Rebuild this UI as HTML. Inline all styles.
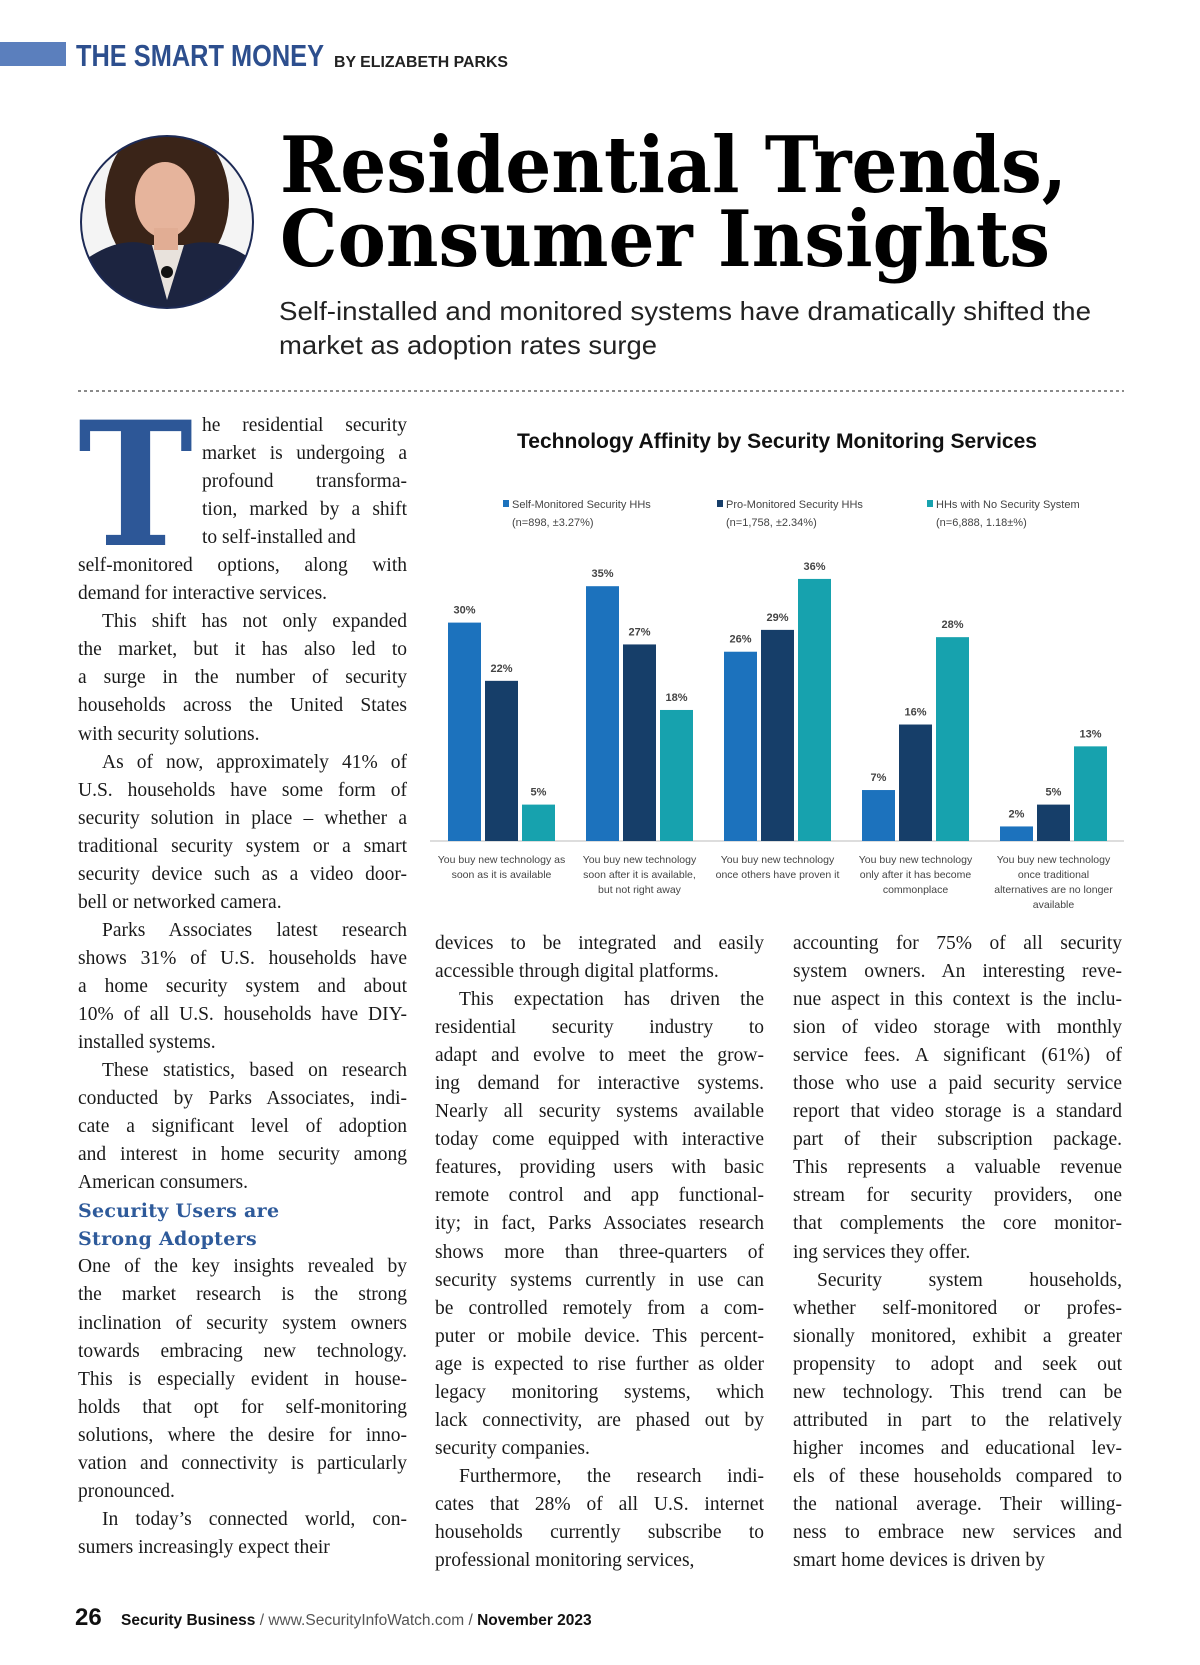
<!DOCTYPE html>
<html><head><meta charset="utf-8"><style>
body{margin:0;background:#fff;}
#page{position:relative;width:1200px;height:1665px;overflow:hidden;background:#fff;font-family:"Liberation Serif",serif;color:#1a1a1a;}
.abs{position:absolute;}
.col{position:absolute;font-size:19.5px;line-height:28.05px;}
.col div{height:28.05px;white-space:nowrap;text-align:justify;text-align-last:justify;}
.col div.e{text-align-last:left;}
.col div.i{padding-left:24px;}
.col div.h{font-family:"DejaVu Serif",serif;font-weight:bold;color:#2e5a9a;font-size:19px;text-align-last:left;letter-spacing:0.3px;}
</style></head><body>
<div id="page">
<div class="abs" style="left:0;top:42px;width:66px;height:24px;background:#5b7fbd;"></div>
<svg class="abs" style="left:0;top:0" width="1200" height="400">
<text x="76" y="66" textLength="248" lengthAdjust="spacingAndGlyphs" font-family="Liberation Sans Narrow, Liberation Sans, sans-serif" font-weight="bold" font-size="31" fill="#2d4f8e">THE SMART MONEY</text>
<text x="334" y="67" textLength="174" lengthAdjust="spacingAndGlyphs" font-family="Liberation Sans, sans-serif" font-weight="bold" font-size="16" fill="#222">BY ELIZABETH PARKS</text>
<text x="280" y="192" textLength="787" lengthAdjust="spacingAndGlyphs" font-family="DejaVu Serif, serif" font-weight="bold" font-size="78" fill="#000">Residential Trends,</text>
<text x="280" y="266" textLength="770" lengthAdjust="spacingAndGlyphs" font-family="DejaVu Serif, serif" font-weight="bold" font-size="78" fill="#000">Consumer Insights</text>
<text x="279" y="320" textLength="812" lengthAdjust="spacingAndGlyphs" font-family="Liberation Sans, sans-serif" font-size="26" fill="#222">Self-installed and monitored systems have dramatically shifted the</text>
<text x="279" y="354" textLength="378" lengthAdjust="spacingAndGlyphs" font-family="Liberation Sans, sans-serif" font-size="26" fill="#222">market as adoption rates surge</text>
<line x1="78" y1="391" x2="1124" y2="391" stroke="#444" stroke-width="1.2" stroke-dasharray="3,3"/>
<g>
<clipPath id="cp"><circle cx="167" cy="222" r="86"/></clipPath>
<g clip-path="url(#cp)">
<rect x="80" y="130" width="180" height="180" fill="#f4f4f4"/>
<ellipse cx="167" cy="200" rx="62" ry="78" fill="#3a2418"/>
<path d="M85 260 Q120 235 150 245 L185 245 Q220 235 255 262 L255 320 L85 320Z" fill="#1c2440"/>
<path d="M152 245 L167 300 L184 245Z" fill="#e8e2dc"/>
<ellipse cx="165" cy="200" rx="30" ry="38" fill="#e6b49c"/>
<rect x="154" y="228" width="24" height="22" fill="#e1ad94"/>
<circle cx="167" cy="272" r="6" fill="#111"/>
</g>
<circle cx="167" cy="222" r="86" fill="none" stroke="#1d2a55" stroke-width="2"/>
</g>
</svg>
<svg class="abs" style="left:70px;top:405px" width="140" height="150">
<text x="8" y="140" textLength="115" lengthAdjust="spacingAndGlyphs" font-family="DejaVu Serif, serif" font-weight="bold" font-size="172" fill="#2d5797">T</text>
</svg>
<div class="col" style="left:78px;top:412px;width:329px;">
<div style="margin-left:124px">he residential security</div>
<div style="margin-left:124px">market is undergoing a</div>
<div style="margin-left:124px">profound transforma-</div>
<div style="margin-left:124px">tion, marked by a shift</div>
<div style="margin-left:124px" class="e">to self-installed and</div>
<div>self-monitored options, along with</div>
<div class="e">demand for interactive services.</div>
<div class="i">This shift has not only expanded</div>
<div>the market, but it has also led to</div>
<div>a surge in the number of security</div>
<div>households across the United States</div>
<div class="e">with security solutions.</div>
<div class="i">As of now, approximately 41% of</div>
<div>U.S. households have some form of</div>
<div>security solution in place – whether a</div>
<div>traditional security system or a smart</div>
<div>security device such as a video door-</div>
<div class="e">bell or networked camera.</div>
<div class="i">Parks Associates latest research</div>
<div>shows 31% of U.S. households have</div>
<div>a home security system and about</div>
<div>10% of all U.S. households have DIY-</div>
<div class="e">installed systems.</div>
<div class="i">These statistics, based on research</div>
<div>conducted by Parks Associates, indi-</div>
<div>cate a significant level of adoption</div>
<div>and interest in home security among</div>
<div class="e">American consumers.</div>
<div class="h">Security Users are</div>
<div class="h">Strong Adopters</div>
<div>One of the key insights revealed by</div>
<div>the market research is the strong</div>
<div>inclination of security system owners</div>
<div>towards embracing new technology.</div>
<div>This is especially evident in house-</div>
<div>holds that opt for self-monitoring</div>
<div>solutions, where the desire for inno-</div>
<div>vation and connectivity is particularly</div>
<div class="e">pronounced.</div>
<div class="i">In today’s connected world, con-</div>
<div class="e">sumers increasingly expect their</div>
</div>
<div class="col" style="left:435px;top:930px;width:329px;">
<div>devices to be integrated and easily</div>
<div class="e">accessible through digital platforms.</div>
<div class="i">This expectation has driven the</div>
<div>residential security industry to</div>
<div>adapt and evolve to meet the grow-</div>
<div>ing demand for interactive systems.</div>
<div>Nearly all security systems available</div>
<div>today come equipped with interactive</div>
<div>features, providing users with basic</div>
<div>remote control and app functional-</div>
<div>ity; in fact, Parks Associates research</div>
<div>shows more than three-quarters of</div>
<div>security systems currently in use can</div>
<div>be controlled remotely from a com-</div>
<div>puter or mobile device. This percent-</div>
<div>age is expected to rise further as older</div>
<div>legacy monitoring systems, which</div>
<div>lack connectivity, are phased out by</div>
<div class="e">security companies.</div>
<div class="i">Furthermore, the research indi-</div>
<div>cates that 28% of all U.S. internet</div>
<div>households currently subscribe to</div>
<div class="e">professional monitoring services,</div>
</div>
<div class="col" style="left:793px;top:930px;width:329px;">
<div>accounting for 75% of all security</div>
<div>system owners. An interesting reve-</div>
<div>nue aspect in this context is the inclu-</div>
<div>sion of video storage with monthly</div>
<div>service fees. A significant (61%) of</div>
<div>those who use a paid security service</div>
<div>report that video storage is a standard</div>
<div>part of their subscription package.</div>
<div>This represents a valuable revenue</div>
<div>stream for security providers, one</div>
<div>that complements the core monitor-</div>
<div class="e">ing services they offer.</div>
<div class="i">Security system households,</div>
<div>whether self-monitored or profes-</div>
<div>sionally monitored, exhibit a greater</div>
<div>propensity to adopt and seek out</div>
<div>new technology. This trend can be</div>
<div>attributed in part to the relatively</div>
<div>higher incomes and educational lev-</div>
<div>els of these households compared to</div>
<div>the national average. Their willing-</div>
<div>ness to embrace new services and</div>
<div class="e">smart home devices is driven by</div>
</div>
<svg id="chart" class="abs" style="left:0;top:0" width="1200" height="930">
<text x="777" y="448" text-anchor="middle" textLength="520" lengthAdjust="spacingAndGlyphs" font-family="Liberation Sans, sans-serif" font-weight="bold" font-size="21" fill="#111">Technology Affinity by Security Monitoring Services</text>
<line x1="430" y1="841" x2="1124" y2="841" stroke="#bbb" stroke-width="1"/>
<g id="bars"></g><g id="legend"></g><g id="cats"></g>
</svg>
<svg class="abs" style="left:0;top:1590px" width="700" height="50">
<text x="75" y="35" font-family="Liberation Sans, sans-serif" font-weight="bold" font-size="24" fill="#111">26</text>
<text x="121" y="35" font-family="Liberation Sans, sans-serif" font-size="15.5" fill="#111"><tspan font-weight="bold">Security Business</tspan><tspan fill="#555"> / www.SecurityInfoWatch.com / </tspan><tspan font-weight="bold">November 2023</tspan></text>
</svg>
</div>
<script>
const categories = [
 ["You buy new technology as","soon as it is available"],
 ["You buy new technology","soon after it is available,","but not right away"],
 ["You buy new technology","once others have proven it"],
 ["You buy new technology","only after it has become","commonplace"],
 ["You buy new technology","once traditional","alternatives are no longer","available"]
];
const seriesNames = ["Self-Monitored Security HHs","Pro-Monitored Security HHs","HHs with No Security System"];
const seriesNotes = ["(n=898, ±3.27%)","(n=1,758, ±2.34%)","(n=6,888, 1.18±%)"];
const selfMonitored = [30,35,26,7,2];
const proMonitored = [22,27,29,16,5];
const noSystem = [5,18,36,28,13];
const series = [selfMonitored, proMonitored, noSystem];
const colors = ["#1c72bd","#163e69","#17a2ae"];
const NS = "http://www.w3.org/2000/svg";
const baseY = 841, pxPer = 7.28, x0 = 448, groupW = 138, barStep = 37, barW = 33;
function yScale(v){ return baseY - v*pxPer; }
function xScale(g,i){ return x0 + g*groupW + i*barStep; }
function mk(tag, attrs, parent){ const e=document.createElementNS(NS,tag); for(const k in attrs) e.setAttribute(k,attrs[k]); parent.appendChild(e); return e; }
const bars=document.getElementById('bars'), legend=document.getElementById('legend'), cats=document.getElementById('cats');
series.forEach((vals,i)=>{
  vals.forEach((v,g)=>{
    const r=mk('rect',{x:xScale(g,i),y:yScale(v),width:barW,height:v*pxPer,fill:colors[i]},bars);
    
    
    const t=mk('text',{x:xScale(g,i)+barW/2,y:yScale(v)-9,'text-anchor':'middle','font-family':'Liberation Sans, sans-serif','font-size':'11','font-weight':'bold',fill:'#444'},bars);
    t.textContent=v+'%';
    
    
  });
  const lx=[503,717,927][i];
  const sq=mk('rect',{x:lx,y:500,width:6,height:7,fill:colors[i]},legend);
  
  
  const lt=mk('text',{x:lx+9,y:508,'font-family':'Liberation Sans, sans-serif','font-size':'11',fill:'#444'},legend);
  lt.textContent=seriesNames[i];
  
  
  const ln=mk('text',{x:lx+9,y:526,'font-family':'Liberation Sans, sans-serif','font-size':'11',fill:'#444'},legend);
  ln.textContent=seriesNotes[i];
  
  
});
categories.forEach((lines,g)=>{
  const cx=xScale(g,1)+barW/2;
  lines.forEach((s,k)=>{
    const t=mk('text',{x:cx,y:863+k*15,'text-anchor':'middle','font-family':'Liberation Sans, sans-serif','font-size':'10.5',fill:'#444'},cats);
    t.textContent=s;
    
    
  });
});
</script>
</body></html>
